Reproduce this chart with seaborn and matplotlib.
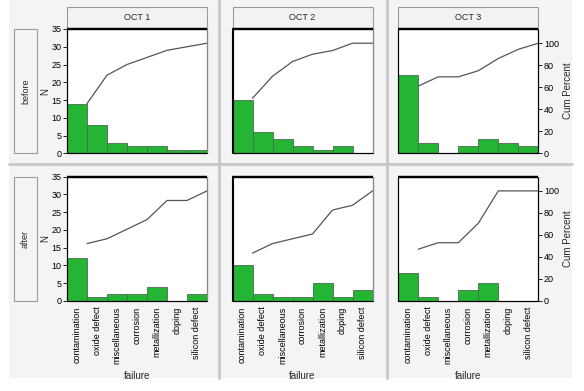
import numpy as np
import matplotlib
matplotlib.use("Agg")
import matplotlib.pyplot as plt
from matplotlib.patches import Rectangle
from matplotlib.lines import Line2D
import seaborn as sns

sns.set_style("white")
plt.rcParams['font.family'] = ['Liberation Sans', 'DejaVu Sans']

failures = ["contamination", "oxide defect", "miscellaneous", "corrosion",
            "metallization", "doping", "silicon defect"]
dates = ["OCT 1", "OCT 2", "OCT 3"]
phases = ["before", "after"]

before_oct1 = [14, 8, 3, 2, 2, 1, 1]
before_oct2 = [15, 6, 4, 2, 1, 2, 0]
before_oct3 = [22, 3, 0, 2, 4, 3, 2]
after_oct1 = [12, 1, 2, 2, 4, 0, 2]
after_oct2 = [10, 2, 1, 1, 5, 1, 3]
after_oct3 = [8, 1, 0, 3, 5, 0, 0]

counts = [[before_oct1, before_oct2, before_oct3],
          [after_oct1, after_oct2, after_oct3]]

W, H = 584, 391
fig = plt.figure(figsize=(W / 100, H / 100), dpi=100, facecolor="white")


def fx(px):
    return px / W


def fy(py):
    return 1 - py / H


# panel background and separators
fig.patches.append(Rectangle((fx(9), fy(378)), fx(563), 378 / H,
                             transform=fig.transFigure, facecolor="#f4f4f4",
                             edgecolor="none", zorder=-10))
for xs in [219, 387]:
    fig.add_artist(Line2D([fx(xs), fx(xs)], [fy(0), fy(378)], color="#c8c8c8", lw=2))
fig.add_artist(Line2D([fx(9), fx(572)], [fy(164), fy(164)], color="#c8c8c8", lw=2))

green = "#25b534"
col_left = [67, 232.5, 398.3]
col_w = 140
row_top = [29, 176.7]
row_h = 124.3
n_max = 35
pct_top = 100 * 35 / 31

for r, phase in enumerate(phases):
    for c, date in enumerate(dates):
        ax = fig.add_axes([fx(col_left[c]), fy(row_top[r] + row_h), fx(col_w), row_h / H])
        ax.set_facecolor("white")
        vals = counts[r][c]
        sns.barplot(x=failures, y=vals, ax=ax, color=green, width=1, saturation=1,
                    edgecolor="#4d6b4d", linewidth=0.6)
        ax.set_xlim(-0.5, 6.5)
        ax.set_ylim(0, n_max)
        ax.set_xlabel("")
        ax.set_ylabel("")

        cum = np.cumsum(vals) / np.sum(vals) * 100
        ax2 = ax.twinx()
        sns.lineplot(x=np.arange(len(failures)) + 0.5, y=cum, ax=ax2,
                     color="#555555", lw=0.9)
        ax2.set_ylim(0, pct_top)
        ax2.set_xlim(-0.5, 6.5)
        ax2.set_ylabel("")

        for a in (ax, ax2):
            for s in a.spines.values():
                s.set_color("black")
                s.set_linewidth(0.8)
                s.set_capstyle("butt")
        ax.spines["top"].set_linewidth(1.6)
        ax2.spines["top"].set_linewidth(1.6)
        if c < 2:
            ax2.spines["right"].set_color("#888888")

        ax.tick_params(axis="both", labelsize=6.5, length=3, width=0.6, pad=1,
                       direction="out", colors="black")
        ax2.tick_params(axis="y", labelsize=6.5, length=3, width=0.6, pad=1,
                        direction="out", colors="black")

        if c == 0:
            ax.set_yticks(range(0, 36, 5))
            ax.set_ylabel("N", fontsize=7, labelpad=1)
        else:
            ax.set_yticks([])
        if c == 2:
            ax2.set_yticks(range(0, 101, 20))
            ax2.set_ylabel("Cum Percent", fontsize=7, labelpad=3)
        else:
            ax2.set_yticks([])

        ax.set_xticks(range(len(failures)))
        if r == 1:
            ax.set_xticklabels(failures, rotation=90, fontsize=6.5)
            ax.set_xlabel("failure", fontsize=7, labelpad=5)
        else:
            ax.set_xticklabels([])
            ax.tick_params(axis="x", length=0)

        if r == 0:
            fig.patches.append(Rectangle((fx(col_left[c]), fy(29)), fx(col_w), 22 / H,
                                         transform=fig.transFigure, facecolor="#f2f2f2",
                                         edgecolor="#9a9a9a", lw=0.8, zorder=-1))
            fig.text(fx(col_left[c] + col_w / 2), fy(18), date, ha="center", va="center",
                     fontsize=6.5)

    top = row_top[r]
    fig.patches.append(Rectangle((fx(14), fy(top + row_h)), fx(23), row_h / H,
                                 transform=fig.transFigure, facecolor="#f4f4f4",
                                 edgecolor="#9a9a9a", lw=0.8, zorder=-1))
    fig.text(fx(25.5), fy(top + row_h / 2), phase, rotation=90, ha="center",
             va="center", fontsize=6.5)

fig.savefig("out.png", dpi=100, facecolor="white")
